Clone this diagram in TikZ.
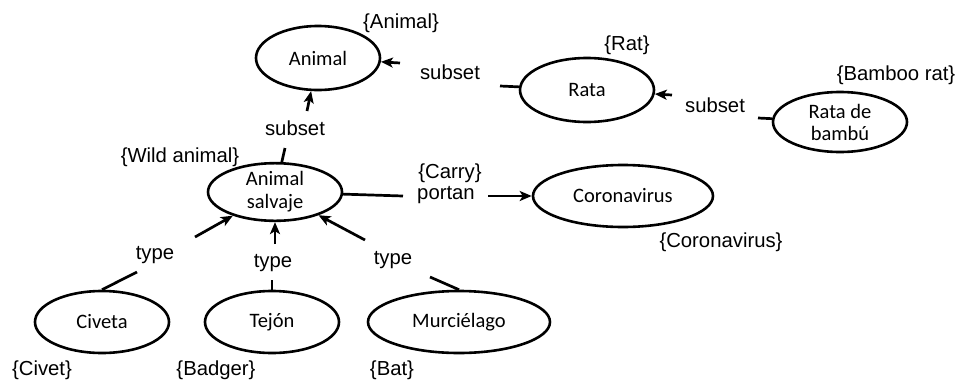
\documentclass[tikz,border=0pt]{standalone}
\usepackage{fontspec}
\setmainfont{Liberation Sans}
\newfontfamily\nodefont{Carlito}
\usetikzlibrary{shapes.geometric,arrows.meta}
\tikzset{
  concept/.style={ellipse, draw=black, line width=2.6pt, inner sep=0pt,
    font=\nodefont\fontsize{20.5}{22}\selectfont, align=center},
  lbl/.style={inner sep=0pt, font=\fontsize{20.3}{23}\selectfont},
  link/.style={line width=2.7pt, draw=black},
  arr/.style={link, -{Stealth[length=12pt,width=10pt,inset=3pt]}},
}
\begin{document}
\begin{tikzpicture}[x=1pt,y=-1pt]
\useasboundingbox (0,0) rectangle (956,381);
% concept nodes
\node[concept, minimum width=124pt, minimum height=64pt] (animal) at (318,58) {Animal};
\node[concept, minimum width=134pt, minimum height=64pt] (rata) at (587,90) {Rata};
\node[concept, minimum width=134pt, minimum height=60pt] (bambu) at (840,122) {Rata de\\bambú};
\node[concept, minimum width=134pt, minimum height=56pt] (salvaje) at (275,192) {Animal\\[1pt]salvaje};
\node[concept, minimum width=180pt, minimum height=62pt] (corona) at (623,196) {Coronavirus};
\node[concept, minimum width=134pt, minimum height=62pt] (civeta) at (102,322) {Civeta};
\node[concept, minimum width=134pt, minimum height=62pt] (tejon) at (272,322) {Tejón};
\node[concept, minimum width=182pt, minimum height=62pt] (murci) at (459,322) {Murciélago};
% translation labels
\node[lbl] (tAnimal) at (401,23) {\{Animal\}};
\node[lbl] (tRat) at (627,45) {\{Rat\}};
\node[lbl] (tBamboo) at (896,75) {\{Bamboo rat\}};
\node[lbl] (tWild) at (180,157) {\{Wild animal\}};
\node[lbl] (tCarry) at (450,173) {\{Carry\}};
\node[lbl] (tCorona) at (721,242) {\{Coronavirus\}};
\node[lbl] (tCivet) at (42,370) {\{Civet\}};
\node[lbl] (tBadger) at (216,370) {\{Badger\}};
\node[lbl] (tBat) at (392,370) {\{Bat\}};
% link labels
\node[lbl] (s1) at (450,72) {subset};
\node[lbl] (s2) at (715,105) {subset};
\node[lbl] (s3) at (295,128) {subset};
\node[lbl] (portan) at (446,195) {portan};
\node[lbl] (ty1) at (155,255) {type};
\node[lbl] (ty2) at (273,263) {type};
\node[lbl] (ty3) at (393,260) {type};
% free ends
\coordinate (a1) at (500,86);
\coordinate (a2) at (400,63);
\coordinate (b1) at (758,118);
\coordinate (b2) at (672,95);
\coordinate (c1) at (285,148);
\coordinate (c2) at (307,111);
\coordinate (d1) at (403,196);
\coordinate (d2) at (488,196);
\coordinate (e1) at (137,272);
\coordinate (e2) at (195,237);
\coordinate (f1) at (272,280);
\coordinate (f2) at (275,244);
\coordinate (g1) at (430,277);
\coordinate (g2) at (365,240);
% connectors
\draw[link] (rata) -- (a1);
\draw[arr] (a2) -- (animal);
\draw[link] (bambu) -- (b1);
\draw[arr] (b2) -- (rata);
\draw[link] (salvaje) -- (c1);
\draw[arr] (c2) -- (animal);
\draw[link] (salvaje) -- (d1);
\draw[arr] (d2) -- (corona);
\draw[link] (civeta.north) -- (e1);
\draw[arr] (e2) -- (salvaje);
\draw[link] (tejon.north) -- (f1);
\draw[arr] (f2) -- (salvaje);
\draw[link] (murci.north) -- (g1);
\draw[arr] (g2) -- (salvaje);
\end{tikzpicture}
\end{document}
